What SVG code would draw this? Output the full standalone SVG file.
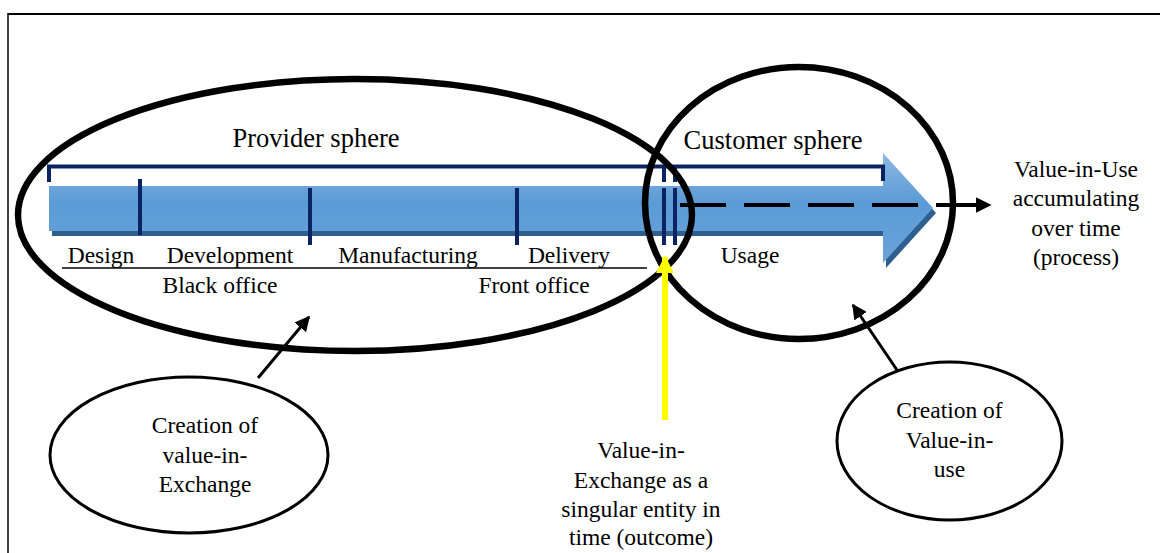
<svg xmlns="http://www.w3.org/2000/svg" width="1160" height="553" viewBox="0 0 1160 553">
  <style>
    text { font-family: "Liberation Serif", "Times New Roman", serif; fill: #000; }
    .lbl { font-size: 23.5px; text-anchor: middle; }
    .title { font-size: 26.5px; text-anchor: middle; }
    .navy { stroke: #0a2463; stroke-width: 4; fill: none; }
    .sphere { fill: none; stroke: #000; stroke-width: 6.5; }
    .bubble { fill: #fff; stroke: #000; stroke-width: 3; }
    .link { stroke: #000; stroke-width: 3; fill: none; }
  </style>
  <defs>
    <linearGradient id="flowFill" x1="0" y1="0" x2="0" y2="1">
      <stop offset="0" stop-color="#8db9e4"/>
      <stop offset="0.45" stop-color="#5b9bd5"/>
      <stop offset="1" stop-color="#6aa3da"/>
    </linearGradient>
    <marker id="tipBlack" viewBox="0 0 10 10" refX="9" refY="5" markerWidth="5" markerHeight="5" orient="auto" markerUnits="strokeWidth">
      <path d="M0,0 L10,5 L0,10 z" fill="#000"/>
    </marker>
    <marker id="tipDash" viewBox="0 0 10 10" refX="9" refY="5" markerWidth="4" markerHeight="4" orient="auto" markerUnits="strokeWidth">
      <path d="M0,0 L10,5 L0,10 z" fill="#000"/>
    </marker>
    <marker id="tipYellow" viewBox="0 0 10 10" refX="9" refY="5" markerWidth="3" markerHeight="3" orient="auto" markerUnits="strokeWidth">
      <path d="M0,0 L10,5 L0,10 z" fill="#ffff00"/>
    </marker>
  </defs>

  <rect width="1160" height="553" fill="#fff"/>

  <!-- frame -->
  <g id="frame" stroke="#000" fill="none">
    <line x1="8" y1="14" x2="1160" y2="14" stroke-width="2"/>
    <line x1="8" y1="13" x2="8" y2="553" stroke-width="1.5"/>
  </g>

  <!-- timeline arrow with its bracket and phase ticks -->
  <g id="timeline">
    <polygon points="52,191 886,191 886,158 936,213 886,268 886,236 52,236" fill="#2f5f8e"/>
    <polygon points="49,186 883,186 883,153 933,208 883,263 883,231 49,231" fill="url(#flowFill)"/>
    <polyline class="navy" points="49,182 49,166.5 883,166.5 883,181"/>
    <line class="navy" x1="140" y1="179" x2="140" y2="235"/>
    <line class="navy" x1="310" y1="188" x2="310" y2="245"/>
    <line class="navy" x1="517" y1="188" x2="517" y2="245"/>
    <line class="navy" x1="664" y1="166" x2="664" y2="182"/>
    <line class="navy" x1="664" y1="188" x2="664" y2="245"/>
    <line class="navy" x1="675" y1="166" x2="675" y2="182"/>
    <line class="navy" x1="675" y1="188" x2="675" y2="245"/>
  </g>

  <!-- phase labels -->
  <g id="phases">
    <text class="lbl" x="101" y="263">Design</text>
    <text class="lbl" x="230" y="263">Development</text>
    <text class="lbl" x="408" y="263">Manufacturing</text>
    <text class="lbl" x="569" y="263">Delivery</text>
    <text class="lbl" x="750" y="263">Usage</text>
    <line x1="62" y1="268" x2="647" y2="268" stroke="#000" stroke-width="1.5"/>
    <text class="lbl" x="220" y="293">Black office</text>
    <text class="lbl" x="534" y="293">Front office</text>
  </g>

  <!-- spheres -->
  <g id="provider-sphere">
    <ellipse class="sphere" cx="355" cy="215" rx="337" ry="136"/>
    <text class="title" x="316" y="147">Provider sphere</text>
  </g>
  <g id="customer-sphere">
    <ellipse class="sphere" cx="799" cy="203" rx="154" ry="136" stroke-width="6"/>
    <text class="title" x="773" y="149">Customer sphere</text>
  </g>

  <g id="value-in-use">
    <text class="lbl" x="1076" y="177">Value-in-Use</text>
    <text class="lbl" x="1076" y="206">accumulating</text>
    <text class="lbl" x="1076" y="236">over time</text>
    <text class="lbl" x="1076" y="265">(process)</text>
  </g>

  <g id="creation-exchange">
    <ellipse class="bubble" cx="189" cy="455" rx="139" ry="78"/>
    <text class="lbl" x="205" y="433">Creation of</text>
    <text class="lbl" x="205" y="463">value-in-</text>
    <text class="lbl" x="205" y="492">Exchange</text>
  </g>

  <g id="creation-use">
    <ellipse class="bubble" cx="949.5" cy="441" rx="112.5" ry="79"/>
    <text class="lbl" x="949.5" y="418">Creation of</text>
    <text class="lbl" x="949.5" y="448">Value-in-</text>
    <text class="lbl" x="949.5" y="477">use</text>
  </g>

  <g id="exchange-outcome">
    <text class="lbl" x="641" y="458">Value-in-</text>
    <text class="lbl" x="641" y="488">Exchange as a</text>
    <text class="lbl" x="641" y="517">singular entity in</text>
    <text class="lbl" x="641" y="545">time (outcome)</text>
  </g>

  <!-- connectors -->
  <g id="connectors">
    <line x1="680" y1="205" x2="990" y2="205" stroke="#000" stroke-width="4" stroke-dasharray="46 18" marker-end="url(#tipDash)"/>
    <line class="link" x1="258" y1="378" x2="309" y2="317" marker-end="url(#tipBlack)"/>
    <line class="link" x1="897" y1="370" x2="853" y2="305" marker-end="url(#tipBlack)"/>
    <line x1="665" y1="420" x2="665" y2="257" stroke="#ffff00" stroke-width="6" marker-end="url(#tipYellow)"/>
  </g>
</svg>
